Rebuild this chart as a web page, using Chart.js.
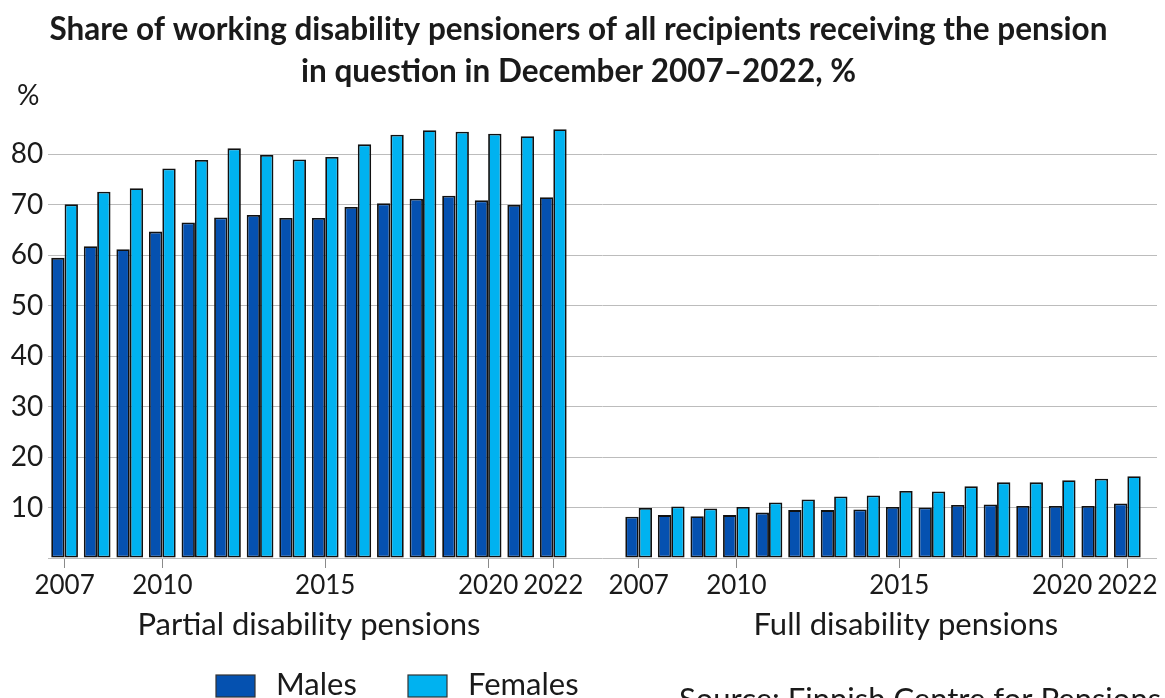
<!DOCTYPE html>
<html>
<head>
<meta charset="utf-8">
<title>Working disability pensioners 2007–2022</title>
<script src="https://cdn.jsdelivr.net/npm/chart.js@4.4.1/dist/chart.umd.min.js"></script>
<style>
  html, body { margin: 0; padding: 0; background: #fff; }
  #wrap { width: 1165px; height: 698px; position: relative; }
</style>
</head>
<body>
<div id="wrap"><canvas id="chart"></canvas></div>
<script>
// --- data ---------------------------------------------------------------
const years = [2007, 2008, 2009, 2010, 2011, 2012, 2013, 2014,
               2015, 2016, 2017, 2018, 2019, 2020, 2021, 2022];
const tickYears = [2007, 2010, 2015, 2020, 2022];
const yTicks = [10, 20, 30, 40, 50, 60, 70, 80];
const groupNames = ["Partial disability pensions", "Full disability pensions"];
const seriesNames = ["Males", "Females"];
const sourceText = "Source: Finnish Centre for Pensions";

const partialMales   = [59.5, 61.8, 61.2, 64.7, 66.5, 67.5, 68.0, 67.4,
                        67.4, 69.6, 70.3, 71.2, 71.8, 70.9, 70.0, 71.5];
const partialFemales = [70.1, 72.6, 73.3, 77.2, 78.9, 81.2, 79.9, 79.0,
                        79.5, 82.0, 83.9, 84.8, 84.5, 84.1, 83.6, 85.0];
const fullMales      = [8.2, 8.5, 8.3, 8.5, 9.0, 9.5, 9.5, 9.6,
                        10.1, 10.0, 10.5, 10.6, 10.3, 10.3, 10.3, 10.8];
const fullFemales    = [9.9, 10.2, 9.8, 10.1, 11.0, 11.6, 12.2, 12.4,
                        13.3, 13.2, 14.2, 15.0, 15.0, 15.4, 15.7, 16.2];

// --- layout helpers -----------------------------------------------------
// second block of years starts a bit more than two slots after the first
const FULL_START = 17.62;
const FONT = "Lato, 'Open Sans', sans-serif";
const TEXT = "#1a1a1a";
const colors = ["#0551b0", "#00b2f0"];

function toPoints(partial, full) {
    const pts = partial.map((v, i) => ({ x: i, y: v }));
    full.forEach((v, i) => pts.push({ x: FULL_START + i, y: v }));
    return pts;
}

// tick positions + labels for both blocks
const xTickValues = [];
const xTickLabels = [];
[0, FULL_START].forEach(start => {
    tickYears.forEach(y => {
        xTickValues.push(start + years.indexOf(y));
        xTickLabels.push(String(y));
    });
});

// texts that sit outside the axes: %, group names, legend, source
const extras = {
    id: "extras",
    afterDraw(chart) {
        const ctx = chart.ctx;
        const x = chart.scales.x;
        ctx.save();
        ctx.fillStyle = TEXT;
        ctx.font = "28px " + FONT;
        ctx.textBaseline = "middle";
        ctx.textAlign = "left";
        ctx.fillText("%", 17, 96);

        // group names under the year ticks
        ctx.font = "31px " + FONT;
        ctx.textAlign = "center";
        ctx.textBaseline = "alphabetic";
        ctx.fillText(groupNames[0], x.getPixelForValue(7.5), 635);
        ctx.fillText(groupNames[1], x.getPixelForValue(FULL_START + 8.2), 635);

        // legend
        const legendX = [216, 408];
        chart.data.datasets.forEach((ds, i) => {
            ctx.fillStyle = ds.backgroundColor;
            ctx.fillRect(legendX[i], 675, 39, 22);
            ctx.strokeStyle = "#333";
            ctx.lineWidth = 1.2;
            ctx.strokeRect(legendX[i], 675, 39, 22);
            ctx.fillStyle = TEXT;
            ctx.textAlign = "left";
            ctx.fillText(ds.label, legendX[i] + 60, 695);
        });

        ctx.fillText(sourceText, 679, 710);
        ctx.restore();
    }
};

const ctx = document.getElementById("chart").getContext("2d");
new Chart(ctx, {
    type: "bar",
    data: {
        datasets: [
            { label: seriesNames[0], data: toPoints(partialMales, fullMales), backgroundColor: colors[0] },
            { label: seriesNames[1], data: toPoints(partialFemales, fullFemales), backgroundColor: colors[1] }
        ]
    },
    options: {
        responsive: true,
        maintainAspectRatio: false,
        animation: false,
        layout: { padding: { left: 0, right: 8, top: 0, bottom: 0 } },
        datasets: {
            bar: {
                categoryPercentage: 0.82,
                barPercentage: 1,
                borderWidth: 1.8,
                borderColor: "#111",
                borderSkipped: false
            }
        },
        scales: {
            x: {
                type: "linear",
                offset: false,
                min: -0.5,
                max: 33.53,
                afterBuildTicks: s => { s.ticks = xTickValues.map(v => ({ value: v })); },
                afterFit: s => { s.height = 140; },
                grid: { offset: false, drawOnChartArea: false, drawTicks: true, tickLength: 10, color: "#8a8a8a" },
                border: { display: false },
                ticks: {
                    autoSkip: false,
                    maxRotation: 0,
                    padding: 2,
                    color: TEXT,
                    font: { family: FONT, size: 26 },
                    callback: (v, i) => xTickLabels[i]
                }
            },
            y: {
                min: 0,
                max: 90,
                afterBuildTicks: s => { s.ticks = [0].concat(yTicks).map(v => ({ value: v })); },
                afterFit: s => { s.width = 48.3; },
                grid: { color: "#bcbcbc", drawTicks: false },
                border: { display: false },
                ticks: {
                    padding: 5,
                    color: TEXT,
                    font: { family: FONT, size: 28 },
                    callback: v => (v === 0 ? "" : v)
                }
            }
        },
        plugins: {
            legend: { display: false },
            tooltip: { enabled: false },
            title: {
                display: true,
                text: ["Share of working disability pensioners of all recipients receiving the pension",
                       "in question in December 2007\u20132022, %"],
                color: TEXT,
                font: { family: FONT, size: 31.5, weight: "bold", lineHeight: 1.333 },
                padding: { top: 9, bottom: 11 }
            }
        }
    },
    plugins: [extras]
});
</script>
</body>
</html>
